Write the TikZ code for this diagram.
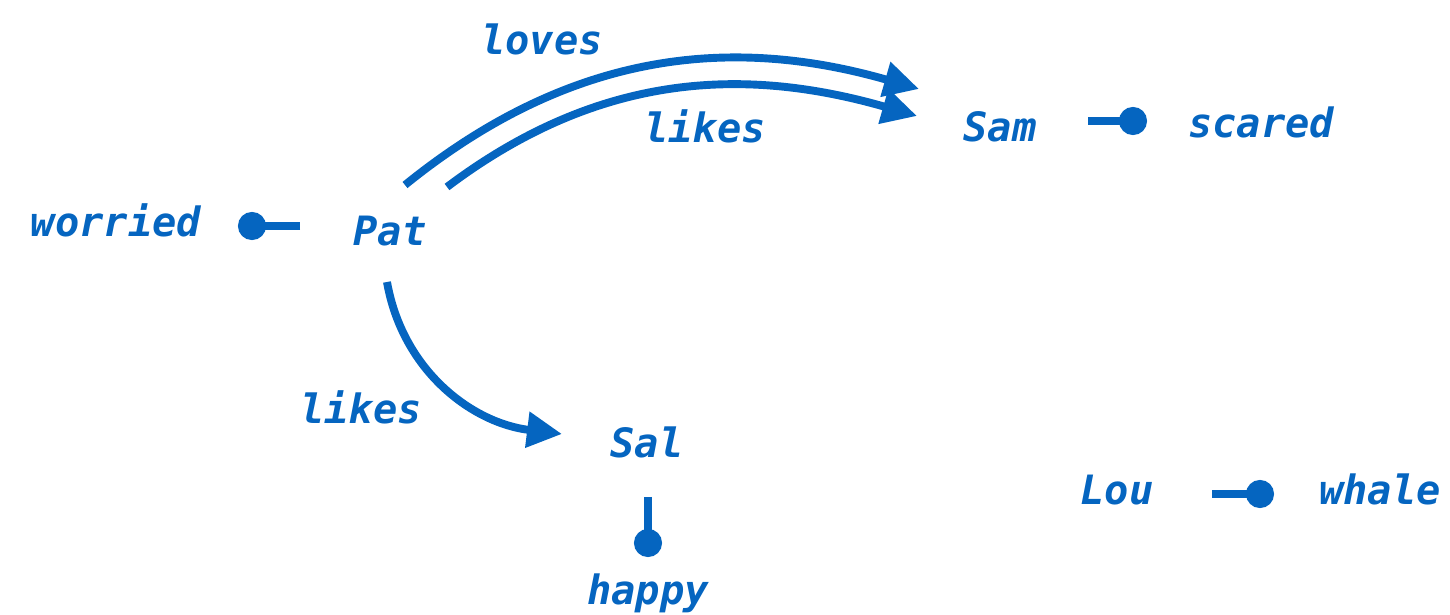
\documentclass[tikz,border=0pt]{standalone}
\usepackage{fontspec}
\newfontfamily\graphfont{DejaVu Sans Mono}
\usetikzlibrary{arrows.meta}
\definecolor{ink}{HTML}{0565C0}
\tikzset{
  word/.style={text=ink,font=\graphfont\bfseries\itshape\fontsize{23}{27}\selectfont,inner sep=0pt,anchor=base},
  rel/.style={draw=ink,line width=4.5pt,-{Triangle[length=0.7cm,width=0.69cm]}},
  stub/.style={draw=ink,line width=4.5pt,-{Circle[length=0.56cm]}}
}
\begin{document}
\begin{tikzpicture}[x=0.02cm,y=0.02cm]
          \useasboundingbox (0,0) rectangle (1450,615);

          \node[word] (worried) at (116,378) {worried};
          \node[word] (pat) at (390,369) {Pat};
          \node[word] (sam) at (1000,473) {Sam};
          \node[word] (scared) at (1261,477) {scared};
          \node[word] (sal) at (647,157) {Sal};
          \node[word] (happy) at (648,10) {happy};
          \node[word] (lou) at (1117,110) {Lou};
          \node[word] (whale) at (1380,110) {whale};

          \node[word] (loves) at (542,560) {loves};
          \node[word] (likessam) at (705,472) {likes};
          \node[word] (likessal) at (361,191) {likes};

          \draw[rel] ([shift={(15,61)}]pat.base) to[out=39,in=164] ([shift={(-81,53)}]sam.base);
          \draw[rel] ([shift={(57,59)}]pat.base) to[out=37,in=164] ([shift={(-83,26)}]sam.base);
          \draw[rel] ([shift={(-3,-36)}]pat.base) to[out=-80,in=173] ([shift={(-85,24)}]sal.base);

          \draw[stub] ([shift={(-90,20)}]pat.base) -- ([shift={(122,11)}]worried.base);
          \draw[stub] ([shift={(88,21)}]sam.base) -- ([shift={(-114,17)}]scared.base);
          \draw[stub] ([shift={(1,-39)}]sal.base) -- ([shift={(0,48)}]happy.base);
          \draw[stub] ([shift={(95,11)}]lou.base) -- ([shift={(-106,11)}]whale.base);
        \end{tikzpicture}
\end{document}
